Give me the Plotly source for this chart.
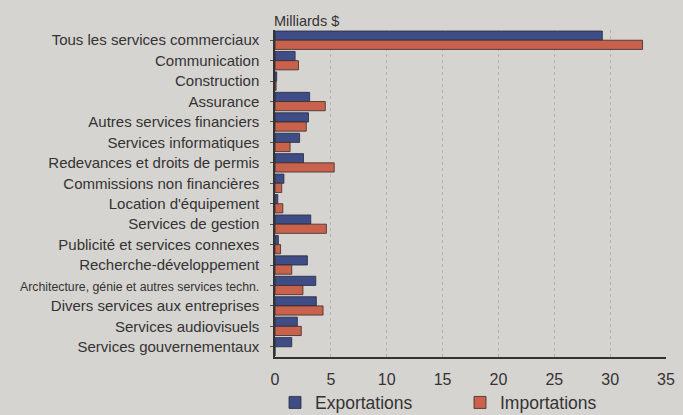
import plotly.graph_objects as go

categories = [
    "Tous les services commerciaux",
    "Communication",
    "Construction",
    "Assurance",
    "Autres services financiers",
    "Services informatiques",
    "Redevances et droits de permis",
    "Commissions non financières",
    "Location d'équipement",
    "Services de gestion",
    "Publicité et services connexes",
    "Recherche-développement",
    "Architecture, génie et autres services techn.",
    "Divers services aux entreprises",
    "Services audiovisuels",
    "Services gouvernementaux",
]
exportations = [29.3, 1.8, 0.15, 3.1, 3.0, 2.2, 2.55, 0.8, 0.25, 3.2, 0.3, 2.9, 3.65, 3.7, 2.0, 1.5]
importations = [32.9, 2.1, 0.1, 4.5, 2.8, 1.35, 5.3, 0.6, 0.7, 4.6, 0.5, 1.5, 2.5, 4.3, 2.35, 0.0]
x_ticks = [0, 5, 10, 15, 20, 25, 30, 35]

tick_text = []
for c in categories:
    if c.startswith("Architecture"):
        tick_text.append('<span style="font-size:12.3px">' + c + '</span>')
    else:
        tick_text.append(c)

fig = go.Figure()
fig.add_trace(go.Bar(
    y=categories, x=exportations, orientation="h", name="Exportations",
    marker=dict(color="#3f4d86", line=dict(color="#2a2a3a", width=0.8)),
))
fig.add_trace(go.Bar(
    y=categories, x=importations, orientation="h", name="Importations",
    marker=dict(color="#c8624c", line=dict(color="#3a2a2a", width=0.8)),
))

fig.update_layout(
    width=683, height=415,
    paper_bgcolor="#d6d4d1", plot_bgcolor="#d6d4d1",
    barmode="group", bargap=0.1, bargroupgap=0.0,
    margin=dict(l=275, r=17, t=30, b=58, autoexpand=False),
    font=dict(family="Liberation Sans, Arial, sans-serif", color="#333333"),
    showlegend=True,
    legend=dict(orientation="h", x=0.0, xanchor="left",
                yref="container", y=0.03, yanchor="middle",
                font=dict(size=17.5), bgcolor="rgba(0,0,0,0)", traceorder="normal",
                entrywidth=140, entrywidthmode="pixels", itemwidth=30),
    annotations=[dict(text="Milliards $", xref="paper", yref="paper", x=-0.008, y=1.0,
                      xanchor="left", yanchor="bottom", showarrow=False,
                      font=dict(size=14.5, color="#333333"), yshift=-1)],
)
fig.update_xaxes(
    range=[0, 35], tickvals=x_ticks, ticktext=[str(v) for v in x_ticks],
    showgrid=True, gridcolor="#b4b4b4", griddash="dot", gridwidth=1,
    showline=True, linecolor="#333333", linewidth=1.5,
    zeroline=False, ticks="", tickfont=dict(size=16), ticklabelstandoff=7,
    automargin=False,
)
fig.update_yaxes(
    autorange="reversed", tickvals=categories, ticktext=tick_text,
    showline=True, linecolor="#333333", linewidth=1.5,
    ticks="outside", ticklen=3, tickcolor="#555555", ticklabelstandoff=8,
    tickfont=dict(size=15), showgrid=False, automargin=False,
)

fig.write_html(
    "out.html",
    config={"displayModeBar": False},
    post_script="document.body.style.margin='0';document.body.style.background='#d6d4d1';",
)
